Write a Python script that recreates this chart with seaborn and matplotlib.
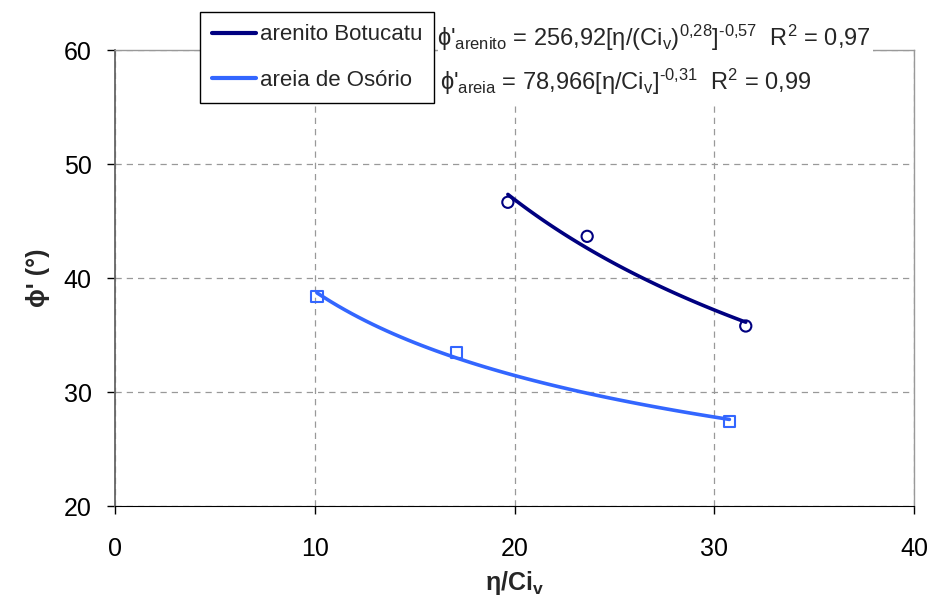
import numpy as np
import pandas as pd
import matplotlib
matplotlib.use("Agg")
import matplotlib.pyplot as plt
import seaborn as sns
from matplotlib.patches import Rectangle

# ensaios triaxiais: eta/Civ x phi'
arenito_x = [19.66, 23.63, 31.57]
arenito_phi = [46.66, 43.67, 35.8]
areia_x = [10.1, 17.1, 30.75]
areia_phi = [38.4, 33.5, 27.4]

series = ["arenito Botucatu", "areia de Osório"]
colors = ["#000080", "#3366FF"]
markers = ["o", "s"]
xticks = [0, 10, 20, 30, 40]
yticks = [20, 30, 40, 50, 60]

sns.set_style("white")
plt.rcParams["font.family"] = ["Liberation Sans", "DejaVu Sans"]
plt.rcParams["mathtext.fontset"] = "custom"
plt.rcParams["mathtext.rm"] = "Liberation Sans"
plt.rcParams["mathtext.it"] = "Liberation Sans"
plt.rcParams["mathtext.bf"] = "Liberation Sans:bold"

pts = pd.DataFrame({
    "x": arenito_x + areia_x,
    "phi": arenito_phi + areia_phi,
    "material": [series[0]] * len(arenito_x) + [series[1]] * len(areia_x),
})

fig = plt.figure(figsize=(9.29, 6.06), dpi=100)
ax = fig.add_axes([0.124, 0.165, 0.860, 0.752])

# linha de tendencia tipo potencia (ajuste em log-log, como no Excel)
for name, c, m in zip(series, colors, markers):
    d = pts[pts.material == name]
    b, a = np.polyfit(np.log(d.x), np.log(d.phi), 1)
    xs = np.linspace(d.x.min(), d.x.max(), 60)
    fit = pd.DataFrame({"x": xs, "phi": np.exp(a) * xs ** b})
    sns.lineplot(data=fit, x="x", y="phi", color=c, lw=2.6, ax=ax, label=name)
    sns.scatterplot(data=d, x="x", y="phi", marker=m, s=65, facecolor="none",
                    edgecolor=c, linewidth=1.5, ax=ax, zorder=5)

ax.set_xlim(0, 40)
ax.set_ylim(20, 60)
ax.set_xticks(xticks)
ax.set_yticks(yticks)
ax.grid(True, ls=(0, (5, 4)), color="#999999", lw=0.9)
ax.set_axisbelow(True)
for s in ["top", "right"]:
    ax.spines[s].set_color("#999999")
    ax.spines[s].set_linewidth(1.0)
ax.spines["left"].set_color("#666666")
ax.spines["left"].set_linewidth(1.3)
ax.spines["bottom"].set_color("black")
ax.tick_params(axis="both", direction="out", length=6, width=1, labelsize=18,
               bottom=True, left=True, colors="black")
ax.tick_params(axis="x", pad=16)
ax.tick_params(axis="y", pad=11)

ax.set_xlabel("η/Ci$_\\mathregular{v}$", fontsize=18, fontweight="bold", labelpad=6)
ax.set_ylabel("ϕ' (°)", fontsize=18, fontweight="bold", labelpad=10)

leg = ax.legend(loc="upper left", bbox_to_anchor=(0.215, 0.980), bbox_transform=fig.transFigure,
                fontsize=16, frameon=True, fancybox=False, handlelength=2.0, handletextpad=0.15,
                borderpad=0.55, labelspacing=1.1, borderaxespad=0)
leg.get_frame().set_edgecolor("black")
leg.get_frame().set_linewidth(1.0)
leg.get_frame().set_alpha(1)
for ln in leg.get_lines():
    ln.set_linewidth(3)

# caixa branca das equacoes (esconde a borda superior e a grade)
fig.add_artist(Rectangle((0.472, 0.825), 0.468, 0.155, transform=fig.transFigure,
                         facecolor="white", edgecolor="none", zorder=1))

eq1 = ("ϕ'$_\\mathregular{arenito}$ = 256,92[η/(Ci$_\\mathregular{v}$)"
       "$^\\mathregular{0{,}28}$]$^\\mathregular{‐0{,}57}$  R$^\\mathregular{2}$ = 0,97")
eq2 = ("ϕ'$_\\mathregular{areia}$ = 78,966[η/Ci$_\\mathregular{v}$]"
       "$^\\mathregular{‐0{,}31}$  R$^\\mathregular{2}$ = 0,99")
fig.text(0.470, 0.937, eq1, fontsize=17, va="center", ha="left", zorder=3)
fig.text(0.474, 0.865, eq2, fontsize=17, va="center", ha="left", zorder=3)

fig.savefig("out.png", dpi=100, facecolor="white")
